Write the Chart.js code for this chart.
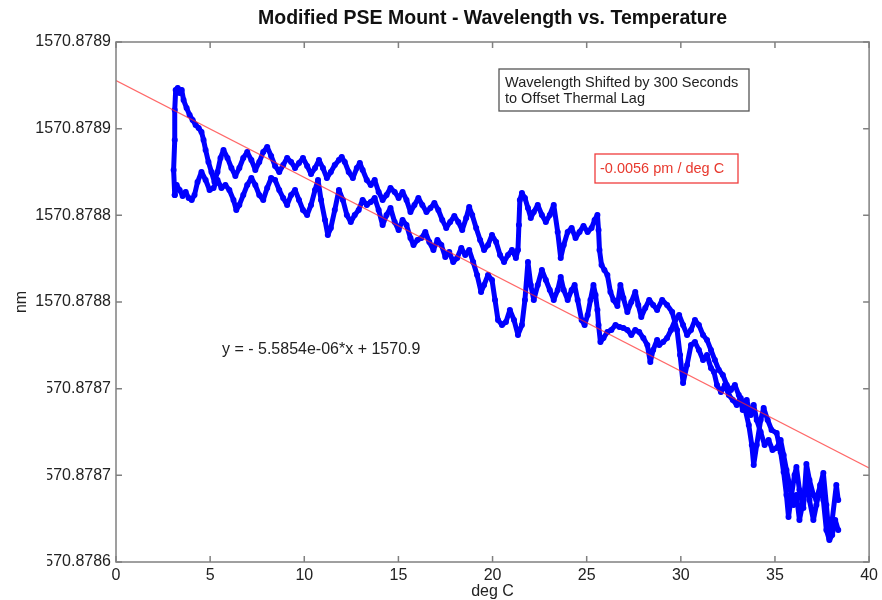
<!DOCTYPE html>
<html>
<head>
<meta charset="utf-8">
<title>Modified PSE Mount - Wavelength vs. Temperature</title>
<script src="https://cdn.jsdelivr.net/npm/chart.js@4.4.1/dist/chart.umd.min.js"></script>
<style>
  body { margin: 0; background: #fff; }
  #wrap { width: 882px; height: 600px; }
</style>
</head>
<body>
<div id="wrap"><canvas id="chart" width="882" height="600"></canvas></div>
<script>
// sweep 1 (deg C / nm)
let tempA = [3.12, 3.06, 3.12, 3.12, 3.17, 3.28, 3.38, 3.49, 3.59, 3.75, 3.91, 4.07, 4.23, 4.39, 4.54, 4.65, 4.76, 4.91, 5.07, 5.23,
  5.39, 5.55, 5.71, 5.92, 6.13, 6.34, 6.55, 6.76, 6.97, 7.19, 7.40, 7.61, 7.82, 8.03, 8.24, 8.45, 8.67, 8.88, 9.09, 9.30,
  9.51, 9.72, 9.93, 10.15, 10.36, 10.57, 10.78, 10.99, 11.20, 11.41, 11.62, 11.84, 11.99, 12.15, 12.36, 12.58, 12.79, 12.95, 13.10, 13.32,
  13.53, 13.74, 13.95, 14.16, 14.37, 14.58, 14.80, 15.01, 15.22, 15.43, 15.64, 15.85, 16.06, 16.27, 16.49, 16.70, 16.91, 17.12, 17.33, 17.54,
  17.75, 17.97, 18.18, 18.39, 18.60, 18.76, 18.92, 19.13, 19.34, 19.55, 19.76, 19.97, 20.19, 20.40, 20.61, 20.82, 21.03, 21.24, 21.35, 21.40,
  21.45, 21.56, 21.72, 21.88, 22.03, 22.19, 22.40, 22.62, 22.83, 23.04, 23.25, 23.46, 23.62, 23.78, 23.99, 24.20, 24.41, 24.62, 24.83, 25.05,
  25.26, 25.42, 25.57, 25.63, 25.68, 25.79, 25.94, 26.10, 26.26, 26.42, 26.63, 26.79, 26.95, 27.16, 27.37, 27.58, 27.74, 27.90, 28.11, 28.32,
  28.53, 28.74, 29.01, 29.27, 29.54, 29.80, 29.96, 30.12, 30.33, 30.54, 30.75, 30.96, 31.18, 31.39, 31.60, 31.76, 31.92, 32.13, 32.34, 32.55,
  32.76, 32.97, 33.18, 33.40, 33.61, 33.77, 33.87, 34.03, 34.24, 34.40, 34.61, 34.82, 35.09, 35.30, 35.46, 35.61, 35.72, 35.88, 36.04, 36.14,
  36.30, 36.51, 36.67, 36.83, 37.04, 37.20, 37.41, 37.57, 37.73, 37.89, 38.04, 38.26, 38.36];
let wlA = [1570.8788117, 1570.8788262, 1570.8788435, 1570.8788608, 1570.8788723, 1570.8788735, 1570.8788706, 1570.8788723, 1570.8788665, 1570.8788619,
  1570.8788579, 1570.8788550, 1570.8788521, 1570.8788504, 1570.8788481, 1570.8788435, 1570.8788377, 1570.8788308, 1570.8788250, 1570.8788192,
  1570.8788250, 1570.8788331, 1570.8788377, 1570.8788331, 1570.8788273, 1570.8788227, 1570.8788273, 1570.8788331, 1570.8788365, 1570.8788319,
  1570.8788262, 1570.8788308, 1570.8788365, 1570.8788394, 1570.8788342, 1570.8788285, 1570.8788250, 1570.8788290, 1570.8788331, 1570.8788308,
  1570.8788273, 1570.8788302, 1570.8788331, 1570.8788285, 1570.8788238, 1570.8788273, 1570.8788319, 1570.8788273, 1570.8788215, 1570.8788250,
  1570.8788290, 1570.8788319, 1570.8788337, 1570.8788308, 1570.8788250, 1570.8788215, 1570.8788273, 1570.8788302, 1570.8788262, 1570.8788204,
  1570.8788175, 1570.8788204, 1570.8788135, 1570.8788089, 1570.8788117, 1570.8788158, 1570.8788135, 1570.8788100, 1570.8788135, 1570.8788089,
  1570.8788019, 1570.8788060, 1570.8788100, 1570.8788060, 1570.8788019, 1570.8788042, 1570.8788071, 1570.8788031, 1570.8787973, 1570.8787927,
  1570.8787962, 1570.8787996, 1570.8787962, 1570.8787915, 1570.8787985, 1570.8788048, 1570.8788002, 1570.8787927, 1570.8787858, 1570.8787800,
  1570.8787829, 1570.8787887, 1570.8787846, 1570.8787771, 1570.8787731, 1570.8787771, 1570.8787800, 1570.8787754, 1570.8787800, 1570.8787944,
  1570.8788089, 1570.8788129, 1570.8788100, 1570.8788042, 1570.8787985, 1570.8788019, 1570.8788060, 1570.8788002, 1570.8787962, 1570.8788002,
  1570.8788060, 1570.8787904, 1570.8787754, 1570.8787829, 1570.8787904, 1570.8787927, 1570.8787869, 1570.8787904, 1570.8787939, 1570.8787904,
  1570.8787927, 1570.8787973, 1570.8788002, 1570.8787915, 1570.8787800, 1570.8787713, 1570.8787685, 1570.8787656, 1570.8787558, 1570.8787512,
  1570.8787477, 1570.8787598, 1570.8787523, 1570.8787442, 1570.8787500, 1570.8787558, 1570.8787483, 1570.8787414, 1570.8787465, 1570.8787512,
  1570.8787483, 1570.8787454, 1570.8787512, 1570.8787483, 1570.8787442, 1570.8787339, 1570.8787194, 1570.8787033, 1570.8787137, 1570.8787252,
  1570.8787269, 1570.8787223, 1570.8787165, 1570.8787194, 1570.8787119, 1570.8787096, 1570.8787021, 1570.8786981, 1570.8787021, 1570.8786963,
  1570.8786935, 1570.8786906, 1570.8786946, 1570.8786889, 1570.8786790, 1570.8786675, 1570.8786560, 1570.8786675, 1570.8786819, 1570.8786889,
  1570.8786819, 1570.8786762, 1570.8786744, 1570.8786635, 1570.8786519, 1570.8786387, 1570.8786260, 1570.8786387, 1570.8786502, 1570.8786548,
  1570.8786415, 1570.8786312, 1570.8786566, 1570.8786473, 1570.8786387, 1570.8786358, 1570.8786444, 1570.8786514, 1570.8786329, 1570.8786139,
  1570.8786242, 1570.8786444, 1570.8786358];

// sweep 2, coming back down in temperature
let tempB = [38.36, 38.20, 38.04, 37.89, 37.73, 37.57, 37.41, 37.20, 37.04, 36.83, 36.67, 36.46, 36.30, 36.14, 35.98, 35.83, 35.61, 35.46, 35.30, 35.09,
  34.87, 34.66, 34.45, 34.24, 34.03, 33.87, 33.71, 33.50, 33.29, 33.08, 32.87, 32.66, 32.44, 32.23, 32.02, 31.81, 31.60, 31.39, 31.18, 30.96,
  30.75, 30.54, 30.33, 30.12, 29.91, 29.70, 29.48, 29.27, 29.06, 28.85, 28.74, 28.53, 28.38, 28.22, 28.01, 27.79, 27.58, 27.37, 27.16, 26.95,
  26.74, 26.53, 26.31, 26.10, 25.89, 25.73, 25.63, 25.57, 25.47, 25.36, 25.20, 25.05, 24.89, 24.73, 24.52, 24.36, 24.20, 23.99, 23.78, 23.62,
  23.46, 23.25, 23.04, 22.83, 22.62, 22.40, 22.19, 22.03, 21.88, 21.72, 21.56, 21.35, 21.14, 20.92, 20.71, 20.50, 20.29, 20.13, 19.97, 19.76,
  19.55, 19.39, 19.18, 18.97, 18.76, 18.55, 18.34, 18.12, 17.91, 17.70, 17.49, 17.28, 17.07, 16.86, 16.64, 16.43, 16.22, 16.01, 15.80, 15.64,
  15.43, 15.22, 15.01, 14.80, 14.58, 14.37, 14.16, 13.95, 13.74, 13.53, 13.32, 13.10, 12.89, 12.68, 12.47, 12.26, 12.05, 11.84, 11.62, 11.41,
  11.25, 11.10, 10.89, 10.73, 10.57, 10.36, 10.15, 9.93, 9.72, 9.51, 9.30, 9.09, 8.88, 8.67, 8.45, 8.24, 8.03, 7.82, 7.61, 7.40,
  7.19, 6.97, 6.76, 6.55, 6.39, 6.24, 6.02, 5.81, 5.60, 5.39, 5.18, 4.97, 4.76, 4.54, 4.33, 4.17, 4.02, 3.86, 3.70, 3.54,
  3.38, 3.22, 3.12];
let wlB = [1570.8786185, 1570.8786242, 1570.8786156, 1570.8786127, 1570.8786185, 1570.8786358, 1570.8786444, 1570.8786329, 1570.8786242, 1570.8786358,
  1570.8786473, 1570.8786329, 1570.8786242, 1570.8786387, 1570.8786329, 1570.8786415, 1570.8786531, 1570.8786617, 1570.8786704, 1570.8786658,
  1570.8786646, 1570.8786704, 1570.8786675, 1570.8786750, 1570.8786819, 1570.8786906, 1570.8786848, 1570.8786935, 1570.8786877, 1570.8786963,
  1570.8787021, 1570.8786992, 1570.8787021, 1570.8787079, 1570.8787108, 1570.8787165, 1570.8787223, 1570.8787281, 1570.8787310, 1570.8787367,
  1570.8787396, 1570.8787339, 1570.8787310, 1570.8787367, 1570.8787425, 1570.8787396, 1570.8787339, 1570.8787292, 1570.8787269, 1570.8787252,
  1570.8787281, 1570.8787223, 1570.8787154, 1570.8787252, 1570.8787292, 1570.8787327, 1570.8787339, 1570.8787310, 1570.8787339, 1570.8787350,
  1570.8787356, 1570.8787367, 1570.8787339, 1570.8787327, 1570.8787292, 1570.8787269, 1570.8787367, 1570.8787454, 1570.8787540, 1570.8787598,
  1570.8787512, 1570.8787425, 1570.8787367, 1570.8787396, 1570.8787512, 1570.8787598, 1570.8787569, 1570.8787512, 1570.8787569, 1570.8787644,
  1570.8787569, 1570.8787512, 1570.8787569, 1570.8787627, 1570.8787685, 1570.8787598, 1570.8787512, 1570.8787598, 1570.8787731, 1570.8787512,
  1570.8787367, 1570.8787310, 1570.8787396, 1570.8787454, 1570.8787385, 1570.8787367, 1570.8787396, 1570.8787512, 1570.8787627, 1570.8787656,
  1570.8787598, 1570.8787558, 1570.8787656, 1570.8787731, 1570.8787800, 1570.8787771, 1570.8787812, 1570.8787754, 1570.8787731, 1570.8787788,
  1570.8787760, 1570.8787829, 1570.8787858, 1570.8787800, 1570.8787846, 1570.8787904, 1570.8787869, 1570.8787858, 1570.8787829, 1570.8787869,
  1570.8787944, 1570.8787973, 1570.8787915, 1570.8787962, 1570.8788042, 1570.8788002, 1570.8787944, 1570.8788031, 1570.8788100, 1570.8788077,
  1570.8788060, 1570.8788089, 1570.8788031, 1570.8788002, 1570.8787962, 1570.8788002, 1570.8788089, 1570.8788146, 1570.8788031, 1570.8787927,
  1570.8787887, 1570.8787973, 1570.8788089, 1570.8788204, 1570.8788146, 1570.8788060, 1570.8788002, 1570.8788031, 1570.8788089, 1570.8788146,
  1570.8788117, 1570.8788060, 1570.8788100, 1570.8788146, 1570.8788204, 1570.8788215, 1570.8788158, 1570.8788089, 1570.8788117, 1570.8788175,
  1570.8788215, 1570.8788175, 1570.8788117, 1570.8788060, 1570.8788031, 1570.8788089, 1570.8788146, 1570.8788175, 1570.8788158, 1570.8788204,
  1570.8788158, 1570.8788146, 1570.8788204, 1570.8788250, 1570.8788192, 1570.8788117, 1570.8788089, 1570.8788100, 1570.8788135, 1570.8788112,
  1570.8788146, 1570.8788175, 1570.8788117];

// least squares line y = -5.5854e-06*x + b, ends read at 0 and 40 deg C
let fitTemp = [0, 40];
let fitWl = [1570.8788777, 1570.8786543];

let yTickValues = [1570.8786, 1570.87865, 1570.8787, 1570.87875, 1570.8788, 1570.87885, 1570.8789];
let yTickLabels = ['1570.8786', '1570.8787', '1570.8787', '1570.8788', '1570.8788', '1570.8789', '1570.8789'];

const FONT = "'Liberation Sans', Arial, Helvetica, sans-serif";

function points(xs, ys) {
    return xs.map((x, i) => ({ x: x, y: ys[i] }));
}

// MATLAB style box with ticks pointing inward, plus the text boxes
const matlabBox = {
    id: 'matlabBox',
    afterDraw(chart) {
        const ctx = chart.ctx;
        const a = chart.chartArea;
        const xs = chart.scales.x;
        const ys = chart.scales.y;
        ctx.save();

        ctx.strokeStyle = '#808080';
        ctx.lineWidth = 1.5;
        ctx.strokeRect(a.left, a.top, a.right - a.left, a.bottom - a.top);

        ctx.beginPath();
        xs.ticks.forEach(t => {
            let px = xs.getPixelForValue(t.value);
            ctx.moveTo(px, a.bottom); ctx.lineTo(px, a.bottom - 6);
            ctx.moveTo(px, a.top); ctx.lineTo(px, a.top + 6);
        });
        ys.ticks.forEach(t => {
            let py = ys.getPixelForValue(t.value);
            ctx.moveTo(a.left, py); ctx.lineTo(a.left + 6, py);
            ctx.moveTo(a.right, py); ctx.lineTo(a.right - 6, py);
        });
        ctx.stroke();

        // the lower tick labels are cut off on the left in the original
        ctx.fillStyle = '#fff';
        ctx.fillRect(0, 360, 47, 240);

        // title
        ctx.fillStyle = '#111';
        ctx.font = 'bold 19.5px ' + FONT;
        ctx.textAlign = 'center';
        ctx.textBaseline = 'middle';
        ctx.fillText('Modified PSE Mount - Wavelength vs. Temperature', (a.left + a.right) / 2, 19);

        // note box
        ctx.textAlign = 'left';
        ctx.fillStyle = '#fff';
        ctx.fillRect(499, 69, 250, 42);
        ctx.strokeStyle = '#555';
        ctx.lineWidth = 1.3;
        ctx.strokeRect(499, 69, 250, 42);
        ctx.fillStyle = '#222';
        ctx.font = '14.5px ' + FONT;
        ctx.fillText('Wavelength Shifted by 300 Seconds', 505, 83);
        ctx.fillText('to Offset Thermal Lag', 505, 99);

        // slope box
        ctx.fillStyle = '#fff';
        ctx.fillRect(595, 154, 143, 29);
        ctx.strokeStyle = '#f03c3c';
        ctx.strokeRect(595, 154, 143, 29);
        ctx.fillStyle = '#e8392e';
        ctx.fillText('-0.0056 pm / deg C', 600, 169);

        // fit equation
        ctx.fillStyle = '#222';
        ctx.font = '16px ' + FONT;
        ctx.fillText('y = - 5.5854e-06*x + 1570.9', 222, 350);

        ctx.restore();
    }
};

const ctx = document.getElementById('chart').getContext('2d');
const chart = new Chart(ctx, {
    type: 'scatter',
    data: {
        datasets: [{
            type: 'line',
            label: 'fit',
            data: points(fitTemp, fitWl),
            borderColor: 'rgba(255, 40, 40, 0.7)',
            borderWidth: 1.2,
            pointRadius: 0
        }, {
            label: 'sweep up',
            data: points(tempA, wlA),
            showLine: true,
            borderColor: '#0000ff',
            backgroundColor: '#0000ff',
            borderWidth: 5,
            borderJoinStyle: 'round',
            borderCapStyle: 'round',
            pointRadius: 3,
            pointBorderWidth: 0
        }, {
            label: 'sweep down',
            data: points(tempB, wlB),
            showLine: true,
            borderColor: '#0000ff',
            backgroundColor: '#0000ff',
            borderWidth: 5,
            borderJoinStyle: 'round',
            borderCapStyle: 'round',
            pointRadius: 3,
            pointBorderWidth: 0
        }]
    },
    options: {
        responsive: false,
        animation: false,
        layout: { padding: { top: 42, right: 9, bottom: 0, left: 0 } },
        plugins: {
            legend: { display: false },
            tooltip: { enabled: false },
            title: { display: false }
        },
        scales: {
            x: {
                type: 'linear',
                min: 0,
                max: 40,
                grid: { display: false, drawTicks: false },
                border: { display: false },
                ticks: {
                    stepSize: 5,
                    padding: 4,
                    color: '#222',
                    font: { family: FONT, size: 16 },
                    maxRotation: 0
                },
                title: {
                    display: true,
                    text: 'deg C',
                    color: '#222',
                    font: { family: FONT, size: 16, lineHeight: 1 },
                    padding: 0
                },
                afterFit(scale) { scale.height = 38; }
            },
            y: {
                type: 'linear',
                min: 1570.8786,
                max: 1570.8789,
                grid: { display: false, drawTicks: false },
                border: { display: false },
                afterBuildTicks(scale) {
                    scale.ticks = yTickValues.map(v => ({ value: v }));
                },
                ticks: {
                    padding: 5,
                    color: '#222',
                    font: { family: FONT, size: 16 },
                    callback: (val, i) => yTickLabels[i]
                },
                title: {
                    display: true,
                    text: 'nm',
                    color: '#222',
                    font: { family: FONT, size: 16 },
                    padding: { top: 12, bottom: 0 }
                },
                afterFit(scale) { scale.width = 116; }
            }
        }
    },
    plugins: [matlabBox]
});
</script>
</body>
</html>
